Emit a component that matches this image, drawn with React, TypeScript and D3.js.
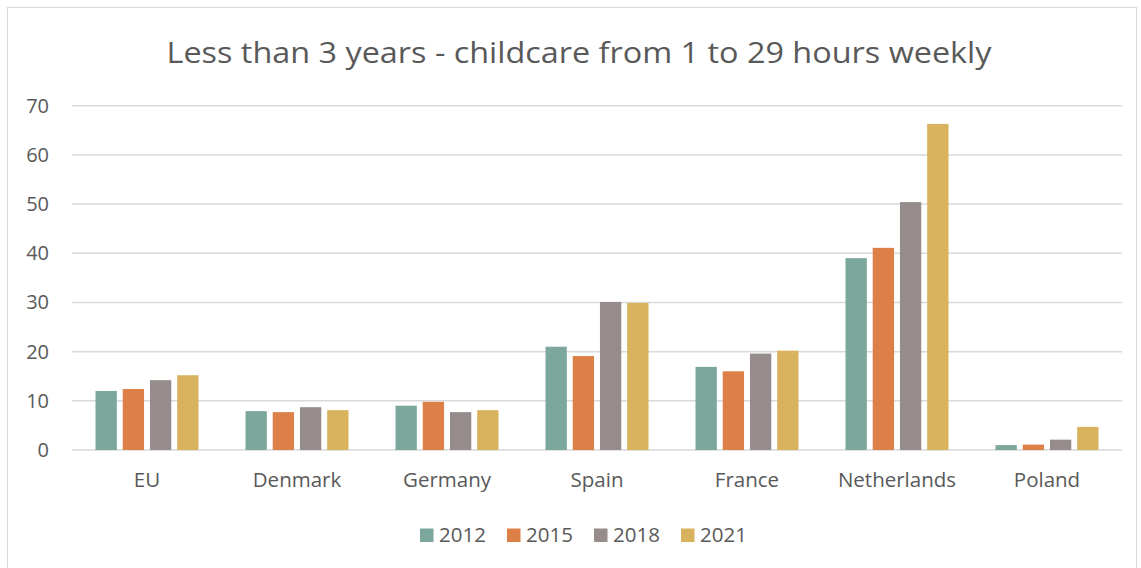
import React from 'react'
import * as d3 from 'd3'

const countries = ['EU', 'Denmark', 'Germany', 'Spain', 'France', 'Netherlands', 'Poland']
const years = ['2012', '2015', '2018', '2021']
const v2012 = [12.0, 7.9, 9.0, 21.0, 16.9, 39.0, 1.0]
const v2015 = [12.4, 7.7, 9.8, 19.1, 16.0, 41.1, 1.1]
const v2018 = [14.2, 8.7, 7.7, 30.1, 19.6, 50.4, 2.1]
const v2021 = [15.2, 8.1, 8.1, 29.9, 20.2, 66.3, 4.7]
const yTicks = [0, 10, 20, 30, 40, 50, 60, 70]
const colors = ['#7BA79D', '#DD8047', '#968C8C', '#D8B25C']

const series = [v2012, v2015, v2018, v2021]
const W = 1141
const H = 568
const font = '"Open Sans", sans-serif'
const textColor = '#595959'

export default function App() {
  const x0 = d3.scaleBand().domain(countries).range([72, 1122]).padding(0)
  const groupW = 103
  const x1 = d3.scaleBand().domain(years)
    .range([(x0.bandwidth() - groupW) / 2, (x0.bandwidth() + groupW) / 2])
    .paddingInner(0.217)
  const y = d3.scaleLinear().domain([0, 70]).range([450, 105.7])

  return (
    <svg width={W} height={H} style={{ position: 'absolute', left: 0, top: 0, background: '#fff' }}>
      <rect x={7.5} y={7.5} width={1129} height={570} fill="#fff" stroke="#D9D9D9" strokeWidth={1} />
      <text x={579} y={63} textAnchor="middle" fontFamily={font} fontWeight={400} fontSize={30}
        fill={textColor} textLength={825} lengthAdjust="spacingAndGlyphs">
        Less than 3 years - childcare from 1 to 29 hours weekly
      </text>
      {yTicks.map(t => (
        <g key={t}>
          <line x1={72} x2={1122} y1={y(t)} y2={y(t)} stroke="#D9D9D9" strokeWidth={1.5} />
          <text x={49} y={y(t) + 7} textAnchor="end" fontFamily={font} fontSize={20} fill={textColor}>{t}</text>
        </g>
      ))}
      {countries.map((c, i) => (
        <g key={c} transform={`translate(${x0(c)},0)`}>
          {years.map((yr, j) => (
            <rect key={yr} x={x1(yr)} y={y(series[j][i])} width={x1.bandwidth()}
              height={y(0) - y(series[j][i])} fill={colors[j]} />
          ))}
          <text x={x0.bandwidth() / 2} y={487} textAnchor="middle" fontFamily={font} fontSize={20.5} fill={textColor}>{c}</text>
        </g>
      ))}
      {years.map((yr, j) => (
        <g key={yr} transform={`translate(${420 + j * 87},0)`}>
          <rect x={0} y={528.5} width={13.5} height={13.5} fill={colors[j]} />
          <text x={19} y={541.5} fontFamily={font} fontSize={20.5} fill={textColor}>{yr}</text>
        </g>
      ))}
    </svg>
  )
}
